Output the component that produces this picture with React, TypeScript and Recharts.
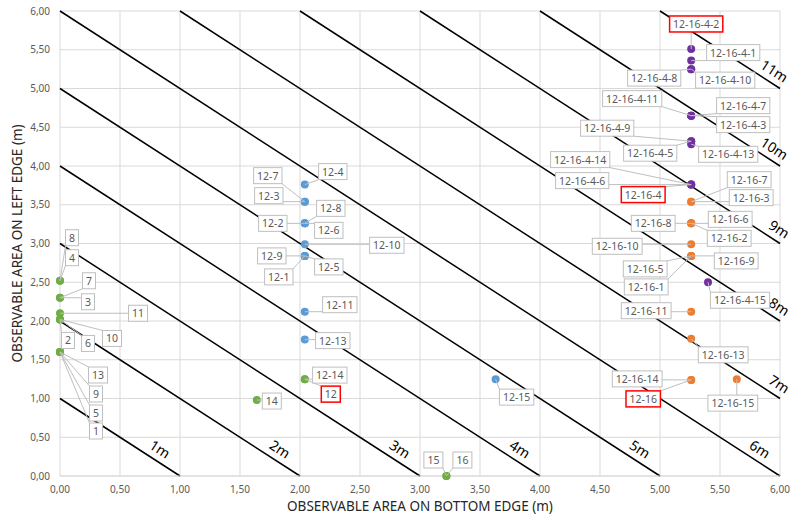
import { ScatterChart, Scatter, XAxis, YAxis, CartesianGrid, ReferenceLine, Label } from 'recharts';

// green series (1..16, 12, 12-14, 14)
const greenNames = ['8', '4', '7', '3', '11', '2', '6', '10', '13', '9', '5', '1', '12-14', '12', '14', '15', '16'];
const greenX = [0, 0, 0, 0, 0, 0, 0, 0, 0, 0, 0, 0, 2.04, 2.04, 1.64, 3.22, 3.22];
const greenY = [2.52, 2.52, 2.3, 2.3, 2.1, 2.02, 2.02, 2.02, 1.6, 1.6, 1.6, 1.6, 1.25, 1.25, 0.98, 0, 0];

// blue series (12-x)
const blueNames = ['12-4', '12-7', '12-3', '12-8', '12-2', '12-6', '12-10', '12-9', '12-1', '12-5', '12-11', '12-13', '12-15'];
const blueX = [2.04, 2.04, 2.04, 2.04, 2.04, 2.04, 2.04, 2.04, 2.04, 2.04, 2.04, 2.04, 3.63];
const blueY = [3.76, 3.54, 3.54, 3.26, 3.26, 3.26, 2.99, 2.84, 2.84, 2.84, 2.12, 1.76, 1.25];

// orange series (12-16-x)
const orangeNames = ['12-16-7', '12-16-3', '12-16-8', '12-16-6', '12-16-2', '12-16-10', '12-16-9', '12-16-5', '12-16-1', '12-16-11', '12-16-13', '12-16-14', '12-16', '12-16-15'];
const orangeX = [5.26, 5.26, 5.26, 5.26, 5.26, 5.26, 5.26, 5.26, 5.26, 5.26, 5.26, 5.26, 5.26, 5.64];
const orangeY = [3.54, 3.54, 3.26, 3.26, 3.26, 2.99, 2.84, 2.84, 2.84, 2.12, 1.77, 1.24, 1.24, 1.25];

// purple series (12-16-4-x)
const purpleNames = ['12-16-4-2', '12-16-4-1', '12-16-4-8', '12-16-4-10', '12-16-4-11', '12-16-4-7', '12-16-4-3', '12-16-4-9', '12-16-4-5', '12-16-4-13', '12-16-4-14', '12-16-4-6', '12-16-4', '12-16-4-15'];
const purpleX = [5.26, 5.26, 5.26, 5.26, 5.26, 5.26, 5.26, 5.26, 5.26, 5.26, 5.26, 5.26, 5.26, 5.4];
const purpleY = [5.51, 5.36, 5.25, 5.25, 4.65, 4.65, 4.65, 4.32, 4.32, 4.28, 3.76, 3.76, 3.76, 2.5];

// diagonal distance lines x + y = k
const distances = [1, 2, 3, 4, 5, 6, 7, 8, 9, 10, 11];

const xTicks = [0, 0.5, 1, 1.5, 2, 2.5, 3, 3.5, 4, 4.5, 5, 5.5, 6];
const yTicks = [0, 0.5, 1, 1.5, 2, 2.5, 3, 3.5, 4, 4.5, 5, 5.5, 6];

const highlighted = ['12-16-4-2', '12-16-4', '12-16', '12'];

// where each data label box sits, in px from its point
const labelOffset: Record<string, [number, number]> = {
  '8': [12, -43], '4': [12, -23], '7': [29, -17], '3': [28, 4], '11': [78, 0],
  '2': [8, 21], '6': [28, 24], '10': [52, 19], '13': [38, 23], '9': [36, 42],
  '5': [36, 61], '1': [36, 79], '12-14': [25, -4], '12': [26, 15], '14': [15, 1],
  '15': [-13, -16], '16': [16, -16],
  '12-4': [28, -13], '12-7': [-37, -26], '12-3': [-36, -6], '12-8': [26, -15],
  '12-2': [-32, 0], '12-6': [24, 7], '12-10': [82, 1], '12-9': [-33, 0],
  '12-1': [-26, 21], '12-5': [24, 11], '12-11': [35, -7], '12-13': [28, 1], '12-15': [21, 18],
  '12-16-7': [58, -22], '12-16-3': [60, -4], '12-16-8': [-38, 0], '12-16-6': [39, -4],
  '12-16-2': [38, 15], '12-16-10': [-74, 2], '12-16-9': [45, 5], '12-16-5': [-46, 13],
  '12-16-1': [-45, 31], '12-16-11': [-45, -1], '12-16-13': [32, 16], '12-16-14': [-54, -1],
  '12-16': [-48, 19], '12-16-15': [-4, 24],
  '12-16-4-2': [5, -25], '12-16-4-1': [42, -8], '12-16-4-8': [-37, 9], '12-16-4-10': [34, 11],
  '12-16-4-11': [-59, -17], '12-16-4-7': [52, -10], '12-16-4-3': [52, 9], '12-16-4-9': [-84, -13],
  '12-16-4-5': [-41, 12], '12-16-4-13': [37, 10], '12-16-4-14': [-111, -25], '12-16-4-6': [-109, -4],
  '12-16-4': [-48, 10], '12-16-4-15': [32, 18],
};

const build = (names: string[], xs: number[], ys: number[]) =>
  names.map((name, i) => ({ name, x: xs[i], y: ys[i] }));

const green = build(greenNames, greenX, greenY);
const blue = build(blueNames, blueX, blueY);
const orange = build(orangeNames, orangeX, orangeY);
const purple = build(purpleNames, purpleX, purpleY);
const allLabels = [...green, ...blue, ...orange, ...purple];

// line captions: bottom row near y=0.22, right column just inside the right edge
const lineLabels = distances.map((k) => {
  if (k <= 6) return { name: `${k}m`, x: k - 0.22, y: 0.22 };
  const at = k >= 10 ? 5.9 : 5.94;
  return { name: `${k}m`, x: at, y: k - at };
});

const FONT = '"Noto Sans", sans-serif';
const LABEL_FS = 10.5;
const textW = (s: string) => s.split('').reduce((w, c) => w + (c === '-' ? 3.4 : 6.0), 0);

const boxOf = (p: any) => {
  const [dx, dy] = labelOffset[p.payload.name] || [20, 0];
  const w = textW(p.payload.name) + 7;
  const h = 16;
  return { bx: p.cx + dx, by: p.cy + dy, w, h };
};

const dot = (color: string) => (p: any) => <circle cx={p.cx} cy={p.cy} r={4} fill={color} />;

const Leader = (p: any) => {
  const { bx, by, w, h } = boxOf(p);
  const ex = Math.min(Math.max(p.cx, bx - w / 2), bx + w / 2);
  const ey = Math.min(Math.max(p.cy, by - h / 2), by + h / 2);
  if (Math.hypot(ex - p.cx, ey - p.cy) < 3) return <g />;
  return <line x1={p.cx} y1={p.cy} x2={ex} y2={ey} stroke="#bfbfbf" strokeWidth={1} />;
};

const LabelBox = (p: any) => {
  const { bx, by, w, h } = boxOf(p);
  const hot = highlighted.includes(p.payload.name);
  return (
    <g>
      <rect x={bx - w / 2} y={by - h / 2} width={w} height={h} fill="#fff"
        stroke={hot ? '#ff0000' : '#bfbfbf'} strokeWidth={hot ? 1.5 : 1} />
      <text x={bx} y={by} textAnchor="middle" dominantBaseline="central"
        fontFamily={FONT} fontSize={LABEL_FS} fill="#595959">{p.payload.name}</text>
    </g>
  );
};

const ANGLE = (Math.atan(77.5 / 120) * 180) / Math.PI;

const LineLabel = (p: any) => {
  const rad = (ANGLE * Math.PI) / 180;
  const tx = p.cx + Math.sin(rad) * 12;
  const ty = p.cy - Math.cos(rad) * 12;
  return (
    <text x={tx} y={ty} textAnchor="middle" dominantBaseline="central" fontFamily={FONT}
      fontSize={14} fill="#000" transform={`rotate(${ANGLE} ${tx} ${ty})`}>{p.payload.name}</text>
  );
};

const fmt = (v: number) => v.toFixed(2).replace('.', ',');

const App = () => {
  return (
    <div style={{ position: 'absolute', left: 0, top: 0, background: '#fff' }}>
      <ScatterChart width={795} height={514} margin={{ top: 11, right: 15, bottom: 0, left: 0 }}>
        <CartesianGrid stroke="#d9d9d9" />
        <XAxis type="number" dataKey="x" domain={[0, 6]} ticks={xTicks} tickFormatter={fmt}
          height={38} tickSize={0} tickMargin={10} axisLine={{ stroke: '#d9d9d9' }}
          tick={{ fontSize: 10, fill: '#595959', fontFamily: FONT }}>
          <Label content={({ viewBox }: any) => (
            <text x={viewBox.x + viewBox.width / 2} y={viewBox.y + viewBox.height - 3} textAnchor="middle"
              fontFamily={FONT} fontSize={13.5} fill="#262626">OBSERVABLE AREA ON BOTTOM EDGE (m)</text>
          )} />
        </XAxis>
        <YAxis type="number" dataKey="y" domain={[0, 6]} ticks={yTicks} tickFormatter={fmt}
          width={60} tickSize={0} tickMargin={10} axisLine={false}
          tick={{ fontSize: 10, fill: '#595959', fontFamily: FONT }}>
          <Label content={({ viewBox }: any) => {
            const cx = 17;
            const cy = viewBox.y + viewBox.height / 2;
            return (
              <text x={cx} y={cy} textAnchor="middle" dominantBaseline="central" fontFamily={FONT}
                fontSize={13.5} fill="#262626" transform={`rotate(-90 ${cx} ${cy})`}>
                OBSERVABLE AREA ON LEFT EDGE (m)
              </text>
            );
          }} />
        </YAxis>
        {distances.map((k) => (
          <ReferenceLine key={k} ifOverflow="visible" stroke="#000" strokeWidth={1.5}
            segment={k <= 6 ? [{ x: 0, y: k }, { x: k, y: 0 }] : [{ x: k - 6, y: 6 }, { x: 6, y: k - 6 }]} />
        ))}
        <Scatter data={lineLabels} shape={LineLabel} isAnimationActive={false} />
        <Scatter data={green} shape={dot('#70ad47')} isAnimationActive={false} />
        <Scatter data={blue} shape={dot('#5b9bd5')} isAnimationActive={false} />
        <Scatter data={orange} shape={dot('#ed7d31')} isAnimationActive={false} />
        <Scatter data={purple} shape={dot('#7030a0')} isAnimationActive={false} />
        <Scatter data={allLabels} shape={Leader} isAnimationActive={false} />
        <Scatter data={allLabels} shape={LabelBox} isAnimationActive={false} />
      </ScatterChart>
    </div>
  );
};

export default App;
